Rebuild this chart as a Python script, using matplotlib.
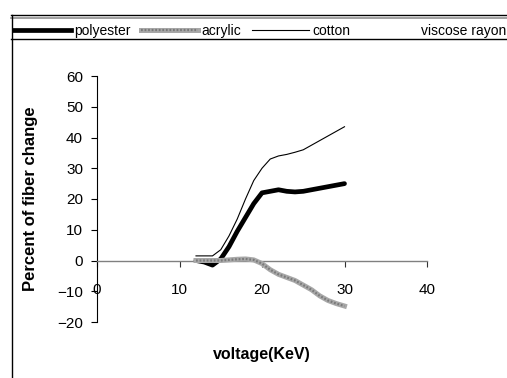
import matplotlib
matplotlib.use("Agg")
import matplotlib.pyplot as plt
from matplotlib.lines import Line2D

plt.rcParams['font.family'] = ['Liberation Sans', 'DejaVu Sans']

voltage = [12, 13, 14, 15, 16, 17, 18, 19, 20, 21, 22, 23, 24, 25, 26, 27, 28, 29, 30]
polyester = [0, -0.5, -1.5, 0.5, 4.5, 9.5, 14, 18.5, 22, 22.5, 23, 22.5, 22.3, 22.5, 23, 23.5, 24, 24.5, 25]
acrylic = [0, 0, 0, 0, 0.2, 0.4, 0.5, 0.2, -1, -3, -4.5, -5.5, -6.5, -8, -9.5, -11.5, -13, -14, -14.8]
cotton = [1.5, 1.5, 1.5, 3.5, 8, 13.5, 20, 26, 30, 33, 34, 34.5, 35.2, 36, 37.5, 39, 40.5, 42, 43.5]
viscose_rayon = []
x_ticks = [0, 10, 20, 30, 40]
y_ticks = [-20, -10, 0, 10, 20, 30, 40, 50, 60]

W, H = 507, 378
fig = plt.figure(figsize=(W / 100, H / 100), dpi=100)
ax = fig.add_axes([97 / W, 1 - 322 / H, 330 / W, 246 / H])

ax.plot(voltage, polyester, color='black', lw=3.4, solid_capstyle='round', zorder=3)
ax.plot(voltage, acrylic, color='#a8a8a8', lw=3.6, zorder=4)
ax.plot(voltage, acrylic, color='#7a7a7a', lw=1.6, dashes=(0.8, 0.8), zorder=4)
ax.plot(voltage, cotton, color='black', lw=0.8, zorder=5)
ax.plot(voltage[:len(viscose_rayon)], viscose_rayon, color='white', lw=1)

ax.set_xlim(0, 40)
ax.set_ylim(-20, 60)
ax.set_xticks(x_ticks)
ax.set_yticks(y_ticks)
for s in ['top', 'right']:
    ax.spines[s].set_visible(False)
ax.spines['bottom'].set_position(('data', 0))
ax.spines['bottom'].set_color('#808080')
ax.spines['bottom'].set_linewidth(1.0)
ax.spines['left'].set_linewidth(0.8)
ax.tick_params(axis='y', direction='out', length=4, width=0.8, labelsize=11, pad=6)
ax.tick_params(axis='x', direction='out', length=4, width=0.8, labelsize=11, pad=12,
               color='#333333')
ax.set_ylabel('Percent of fiber change', fontsize=12, fontweight='bold')
ax.yaxis.set_label_coords(-0.178, 0.5)
fig.text(262 / W, 1 - 355 / H, 'voltage(KeV)', fontsize=11.5, fontweight='bold',
         ha='center', va='center')

# chart-area / legend borders
fig.add_artist(Line2D([11 / W, 1], [1 - 14.5 / H] * 2, color='black', lw=1.0))
fig.add_artist(Line2D([11 / W, 1], [1 - 18 / H] * 2, color='#909090', lw=1.2))
fig.add_artist(Line2D([11 / W, 1], [1 - 38.5 / H] * 2, color='black', lw=1.0))
fig.add_artist(Line2D([11.5 / W] * 2, [0, 1 - 14.5 / H], color='black', lw=1.0))

handles = [
    Line2D([], [], color='black', lw=3.4),
    (Line2D([], [], color='#a8a8a8', lw=3.6), Line2D([], [], color='#7a7a7a', lw=1.6, dashes=(0.8, 0.8))),
    Line2D([], [], color='black', lw=0.8),
    Line2D([], [], color='white', lw=1),
]
labels = ['polyester', 'acrylic', 'cotton', 'viscose rayon']
fig.legend(handles, labels, loc='center left', bbox_to_anchor=(14 / W, 1 - 31 / H),
           ncol=4, frameon=False, fontsize=10, handlelength=4.1, handletextpad=0.25,
           columnspacing=0.75, borderpad=0, borderaxespad=0)

fig.savefig('out.png', dpi=100)
